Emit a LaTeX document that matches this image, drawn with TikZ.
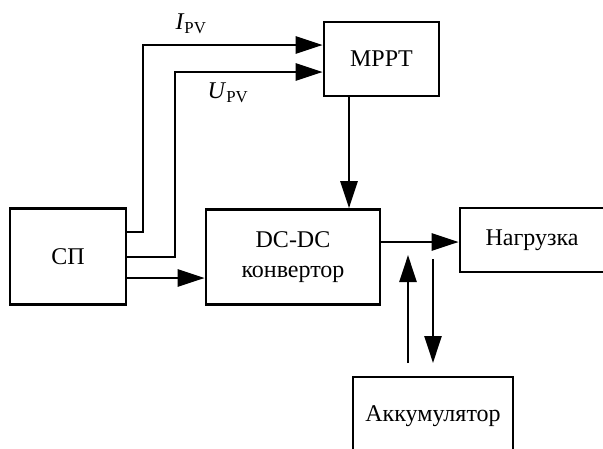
\documentclass[tikz,border=0pt]{standalone}
\usepackage{fontspec}
\setmainfont{Liberation Serif}
\usetikzlibrary{arrows.meta}
\begin{document}
\begin{tikzpicture}[x=1pt,y=-1pt,
  box/.style={draw,line width=2.6pt,rectangle,inner sep=0pt,align=center,font=\fontsize{24}{30}\selectfont},
  arr/.style={line width=2.6pt,-{Triangle[length=27pt,width=17pt]}},
  lbl/.style={font=\fontsize{24}{30}\selectfont,inner sep=0pt}]
\useasboundingbox (0,0) rectangle (603,448);
\clip (0,0) rectangle (603,448);
\node[box,minimum width=116pt,minimum height=96pt] (sp) at (68,256.5) {СП};
\node[box,minimum width=174pt,minimum height=95pt] (dc) at (293,257) {DC-DC\\конвертор};
\node[box,minimum width=115pt,minimum height=74pt] (mppt) at (381.5,59) {MPPT};
\node[box,minimum width=156pt,minimum height=64pt] (load) at (538,240) {Нагрузка\hspace*{12pt}};
\node[box,minimum width=160pt,minimum height=78pt] (acc) at (433,416) {Аккумулятор};
\draw[arr] ([yshift=24.5pt]sp.east) -| (143,150) |- ([yshift=14pt]mppt.west);
\draw[arr] ([yshift=-0.5pt]sp.east) -| (175,150) |- ([yshift=-13pt]mppt.west);
\draw[arr] ([yshift=-21.5pt]sp.east) coordinate (s3) -- (s3 -| dc.west);
\draw[arr] ([xshift=-32.5pt]mppt.south) coordinate (m1) -- (m1 |- dc.north);
\draw[arr] ([yshift=15pt]dc.east) coordinate (d1) -- (d1 -| load.west);
\coordinate (u1) at (408,363);
\coordinate (u2) at (408,255);
\coordinate (v1) at (433,259);
\coordinate (v2) at (433,363);
\draw[arr] (u1) -- (u2);
\draw[arr] (v1) -- (v2);
\node[lbl] (ipv) at (191,24) {\textit{I}\textsubscript{PV}};
\node[lbl] (upv) at (228,93) {\textit{U}\textsubscript{PV}};
\end{tikzpicture}
\end{document}
